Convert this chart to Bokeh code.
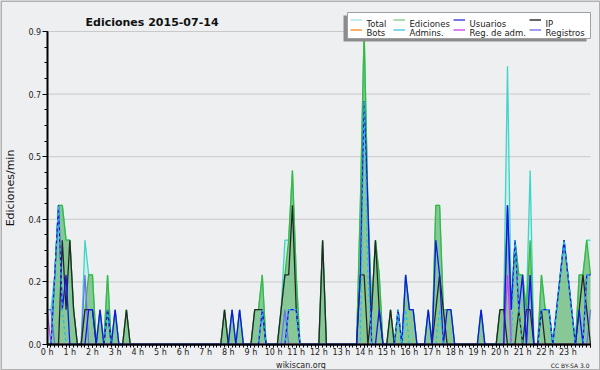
from bokeh.plotting import figure
from bokeh.models import LinearAxis, FixedTicker, Range1d
from bokeh.core.properties import value
from bokeh.embed import file_html
from bokeh.resources import INLINE

# ---------------- data (edits per minute, 10-minute bins, 2015-07-14) ----------------
MINUTES = list(range(0, 1441, 10))
HOURS = [m / 60 for m in MINUTES]

TOTAL = [
    0.1, 0.1, 0.2, 0.4, 0.4, 0.3, 0.3, 0.1, 0, 0, 0.3, 0.2,
    0.2, 0, 0.1, 0, 0.2, 0, 0.1, 0, 0, 0.1, 0, 0,
    0, 0, 0, 0, 0, 0, 0, 0, 0, 0, 0, 0,
    0, 0, 0, 0, 0, 0, 0, 0, 0, 0, 0, 0.1,
    0, 0.1, 0, 0.1, 0, 0, 0, 0.1, 0.1, 0.2, 0, 0,
    0, 0, 0.1, 0.3, 0.3, 0.5, 0.2, 0, 0, 0, 0, 0,
    0, 0.3, 0, 0, 0, 0, 0, 0, 0, 0, 0, 0.4,
    0.9, 0.4, 0.1, 0.3, 0.2, 0, 0, 0.1, 0, 0.1, 0, 0.2,
    0.1, 0.1, 0, 0, 0, 0.1, 0, 0.4, 0.4, 0.1, 0.1, 0.1,
    0, 0, 0, 0, 0, 0, 0, 0.1, 0, 0, 0, 0,
    0.1, 0.1, 0.8, 0.1, 0.3, 0.2, 0.2, 0.1, 0.5, 0, 0, 0.2,
    0.1, 0.1, 0, 0.1, 0.2, 0.3, 0.2, 0.1, 0, 0.2, 0.2, 0.3,
    0.3,
]
EDICIONES = [
    0, 0, 0.2, 0.4, 0.4, 0.3, 0.3, 0.1, 0, 0, 0.1, 0.2,
    0.2, 0, 0.1, 0, 0.2, 0, 0.1, 0, 0, 0.1, 0, 0,
    0, 0, 0, 0, 0, 0, 0, 0, 0, 0, 0, 0,
    0, 0, 0, 0, 0, 0, 0, 0, 0, 0, 0, 0.1,
    0, 0.1, 0, 0.1, 0, 0, 0, 0.1, 0.1, 0.2, 0, 0,
    0, 0, 0.1, 0.2, 0.3, 0.5, 0.2, 0, 0, 0, 0, 0,
    0, 0.3, 0, 0, 0, 0, 0, 0, 0, 0, 0, 0.4,
    0.9, 0.4, 0.1, 0.3, 0.2, 0, 0, 0.1, 0, 0.1, 0, 0.2,
    0.1, 0.1, 0, 0, 0, 0.1, 0, 0.4, 0.4, 0.1, 0.1, 0.1,
    0, 0, 0, 0, 0, 0, 0, 0.1, 0, 0, 0, 0,
    0.1, 0.1, 0.4, 0.1, 0.3, 0.2, 0.2, 0.1, 0.3, 0, 0, 0.2,
    0.1, 0.1, 0, 0.1, 0.2, 0.3, 0.2, 0.1, 0, 0.2, 0.2, 0.3,
    0.2,
]
USUARIOS = [
    0, 0, 0.2, 0.4, 0.1, 0.2, 0, 0, 0, 0, 0, 0.1,
    0.1, 0, 0.1, 0, 0.1, 0, 0.1, 0, 0, 0, 0, 0,
    0, 0, 0, 0, 0, 0, 0, 0, 0, 0, 0, 0,
    0, 0, 0, 0, 0, 0, 0, 0, 0, 0, 0, 0,
    0, 0.1, 0, 0.1, 0, 0, 0, 0, 0, 0.1, 0, 0,
    0, 0, 0, 0, 0.1, 0.1, 0.1, 0, 0, 0, 0, 0,
    0, 0, 0, 0, 0, 0, 0, 0, 0, 0, 0, 0.2,
    0.7, 0.4, 0, 0, 0.1, 0, 0, 0, 0, 0.1, 0, 0.2,
    0.1, 0.1, 0, 0, 0, 0.1, 0, 0.3, 0.2, 0, 0.1, 0.1,
    0, 0, 0, 0, 0, 0, 0, 0.1, 0, 0, 0, 0,
    0, 0, 0.4, 0.1, 0.3, 0.1, 0.2, 0, 0.2, 0, 0, 0.1,
    0.1, 0.1, 0, 0.1, 0.2, 0.3, 0.2, 0.1, 0, 0.1, 0, 0.2,
    0.2,
]
IP = [
    0, 0, 0, 0, 0.3, 0.1, 0.3, 0.1, 0, 0, 0.1, 0.1,
    0.1, 0, 0, 0, 0.1, 0, 0, 0, 0, 0.1, 0, 0,
    0, 0, 0, 0, 0, 0, 0, 0, 0, 0, 0, 0,
    0, 0, 0, 0, 0, 0, 0, 0, 0, 0, 0, 0.1,
    0, 0, 0, 0, 0, 0, 0, 0.1, 0.1, 0.1, 0, 0,
    0, 0, 0.1, 0.2, 0.2, 0.4, 0.1, 0, 0, 0, 0, 0,
    0, 0.3, 0, 0, 0, 0, 0, 0, 0, 0, 0, 0.2,
    0.2, 0, 0.1, 0.3, 0.1, 0, 0, 0.1, 0, 0, 0, 0,
    0, 0, 0, 0, 0, 0, 0, 0.1, 0.2, 0.1, 0, 0,
    0, 0, 0, 0, 0, 0, 0, 0, 0, 0, 0, 0,
    0.1, 0.1, 0, 0, 0, 0.1, 0, 0.1, 0.1, 0, 0, 0.1,
    0, 0, 0, 0, 0, 0, 0, 0, 0, 0.1, 0.2, 0.1,
    0,
]
BOTS = [
    0, 0, 0, 0, 0, 0, 0, 0, 0, 0, 0, 0,
    0, 0, 0, 0, 0, 0, 0, 0, 0, 0, 0, 0,
    0, 0, 0, 0, 0, 0, 0, 0, 0, 0, 0, 0,
    0, 0, 0, 0, 0, 0, 0, 0, 0, 0, 0, 0,
    0, 0, 0, 0, 0, 0, 0, 0, 0, 0, 0, 0,
    0, 0, 0, 0, 0, 0, 0, 0, 0, 0, 0, 0,
    0, 0, 0, 0, 0, 0, 0, 0, 0, 0, 0, 0,
    0, 0, 0, 0, 0, 0, 0, 0, 0, 0, 0, 0,
    0, 0, 0, 0, 0, 0, 0, 0, 0, 0, 0, 0,
    0, 0, 0, 0, 0, 0, 0, 0, 0, 0, 0, 0,
    0, 0, 0, 0, 0, 0, 0, 0, 0, 0, 0, 0,
    0, 0, 0, 0, 0, 0, 0, 0, 0, 0, 0, 0,
    0,
]
ADMINS = [
    0, 0, 0.2, 0.4, 0.1, 0, 0, 0, 0, 0, 0, 0,
    0, 0, 0, 0, 0.1, 0, 0, 0, 0, 0, 0, 0,
    0, 0, 0, 0, 0, 0, 0, 0, 0, 0, 0, 0,
    0, 0, 0, 0, 0, 0, 0, 0, 0, 0, 0, 0,
    0, 0, 0, 0, 0, 0, 0, 0, 0, 0.1, 0, 0,
    0, 0, 0, 0, 0.1, 0.1, 0.1, 0, 0, 0, 0, 0,
    0, 0, 0, 0, 0, 0, 0, 0, 0, 0, 0, 0,
    0.7, 0.2, 0, 0, 0, 0, 0, 0, 0, 0.1, 0, 0.1,
    0, 0, 0, 0, 0, 0, 0, 0, 0.1, 0, 0, 0,
    0, 0, 0, 0, 0, 0, 0, 0, 0, 0, 0, 0,
    0, 0, 0, 0, 0.3, 0.1, 0, 0, 0, 0, 0, 0.1,
    0.1, 0.1, 0, 0.1, 0.2, 0.3, 0.2, 0.1, 0, 0, 0, 0.2,
    0.2,
]
REG_ADM = [
    0.1, 0, 0, 0, 0, 0, 0, 0, 0, 0, 0, 0,
    0, 0, 0, 0, 0, 0, 0, 0, 0, 0, 0, 0,
    0, 0, 0, 0, 0, 0, 0, 0, 0, 0, 0, 0,
    0, 0, 0, 0, 0, 0, 0, 0, 0, 0, 0, 0,
    0, 0, 0, 0, 0, 0, 0, 0, 0, 0, 0, 0,
    0, 0, 0, 0, 0, 0, 0, 0, 0, 0, 0, 0,
    0, 0, 0, 0, 0, 0, 0, 0, 0, 0, 0, 0,
    0, 0, 0, 0, 0, 0, 0, 0, 0, 0, 0, 0,
    0, 0, 0, 0, 0, 0, 0, 0, 0, 0, 0, 0,
    0, 0, 0, 0, 0, 0, 0, 0, 0, 0, 0, 0,
    0, 0, 0.2, 0, 0, 0, 0, 0, 0, 0, 0, 0,
    0, 0, 0, 0, 0, 0, 0, 0, 0, 0, 0, 0,
    0,
]
REGISTROS = [
    0.1, 0.1, 0, 0, 0, 0, 0, 0, 0, 0, 0.2, 0,
    0, 0, 0, 0, 0, 0, 0, 0, 0, 0, 0, 0,
    0, 0, 0, 0, 0, 0, 0, 0, 0, 0, 0, 0,
    0, 0, 0, 0, 0, 0, 0, 0, 0, 0, 0, 0,
    0, 0, 0, 0, 0, 0, 0, 0, 0, 0, 0, 0,
    0, 0, 0, 0.1, 0, 0, 0, 0, 0, 0, 0, 0,
    0, 0, 0, 0, 0, 0, 0, 0, 0, 0, 0, 0,
    0, 0, 0, 0, 0, 0, 0, 0, 0, 0, 0, 0,
    0, 0, 0, 0, 0, 0, 0, 0, 0, 0, 0, 0,
    0, 0, 0, 0, 0, 0, 0, 0, 0, 0, 0, 0,
    0, 0, 0.4, 0, 0, 0, 0, 0, 0.2, 0, 0, 0,
    0, 0, 0, 0, 0, 0, 0, 0, 0, 0, 0, 0,
    0.1,
]

Y_TICKS = [0, 0.18, 0.36, 0.54, 0.72, 0.9]
Y_LABELS = ["0.0", "0.2", "0.4", "0.5", "0.7", "0.9"]
Y_MINOR = [0, 0.045, 0.09, 0.135, 0.18, 0.225, 0.27, 0.315, 0.36, 0.405, 0.45,
           0.495, 0.54, 0.585, 0.63, 0.675, 0.72, 0.765, 0.81, 0.855, 0.9]
X_TICKS = list(range(25))
X_LABELS = [f"{h} h" for h in range(24)] + [""]

TITLE = "Ediciones  2015-07-14"
Y_TITLE = "Ediciones/min"
LEGEND_NAMES = [["Total", "Ediciones", "Usuarios", "IP"],
                ["Bots", "Admins.", "Reg. de adm.", "Registros"]]

# ---------------- layout (pixel geometry of the canvas) ----------------
W, H = 600, 370
PX_H0, PX_H24 = 46.7, 590.0
PY_0, PY_TOP, Y_MAX = 344.0, 31.0, 0.9
PX_PER_H = (PX_H24 - PX_H0) / 24
PX_PER_Y = (PY_0 - PY_TOP) / Y_MAX


def dx(px):
    return (px - PX_H0) / PX_PER_H


def dy(py):
    return (PY_0 - py) / PX_PER_Y


BG = "#eeeff1"
FONT = value("DejaVu Sans")
C_TOTAL, C_TOTAL_FILL = "#3dd5c6", "#40e0d0"
C_EDIT, C_EDIT_FILL = "#3cb83c", "#2e9e2e"
C_USERS = "#1414ee"
C_IP = "#262626"
C_BOTS = "#ff9933"
C_ADMINS = "#2bbbe8"
C_REGADM = "#cc44ee"
C_LOGS = "#7070f0"

p = figure(width=W, height=H, x_range=Range1d(dx(0), dx(W)), y_range=Range1d(dy(H), dy(0)),
           x_axis_type=None, y_axis_type=None, toolbar_location=None,
           output_backend="svg", title=None, min_border=0)
p.min_border_left = p.min_border_right = p.min_border_top = p.min_border_bottom = 0
p.outline_line_color = None
p.background_fill_color = BG
p.border_fill_color = BG

# grid lines
for yt in Y_TICKS[1:]:
    p.segment(x0=[0], y0=[yt], x1=[24], y1=[yt], line_color="#c9c9c9", line_width=1)

# areas
p.varea(x=HOURS, y1=0, y2=TOTAL, fill_color=C_TOTAL_FILL, fill_alpha=0.17)
p.varea(x=HOURS, y1=0, y2=EDICIONES, fill_color=C_EDIT_FILL, fill_alpha=0.45)

# lines
LW = 1.3
p.line(HOURS, BOTS, line_color=C_BOTS, line_width=LW)
p.line(HOURS, TOTAL, line_color=C_TOTAL, line_width=LW)
p.line(HOURS, EDICIONES, line_color=C_EDIT, line_width=LW)
p.line(HOURS, REGISTROS, line_color=C_LOGS, line_width=LW)
p.line(HOURS, REG_ADM, line_color=C_REGADM, line_width=LW)
p.line(HOURS, IP, line_color=C_IP, line_width=LW)
p.line(HOURS, USUARIOS, line_color=C_USERS, line_width=LW)
p.line(HOURS, ADMINS, line_color=C_ADMINS, line_width=LW, line_dash="3 3")

# axes
yaxis = LinearAxis(fixed_location=0, bounds=(0, 0.9),
                   ticker=FixedTicker(ticks=Y_TICKS, minor_ticks=Y_MINOR),
                   major_label_overrides=dict(zip(Y_TICKS, Y_LABELS)))
xaxis = LinearAxis(fixed_location=0, bounds=(0, 24),
                   ticker=FixedTicker(ticks=X_TICKS, minor_ticks=HOURS),
                   major_label_overrides=dict(zip(X_TICKS, X_LABELS)))
for ax in (yaxis, xaxis):
    ax.axis_line_color = "black"
    ax.axis_line_width = 2
    ax.major_tick_line_color = "black"
    ax.minor_tick_line_color = "black"
    ax.major_tick_in = 0
    ax.minor_tick_in = 0
    ax.major_label_text_font = "DejaVu Sans"
    ax.major_label_text_font_size = "8px"
    ax.major_label_text_color = "#222222"
yaxis.major_tick_out = 5
yaxis.minor_tick_out = 3
yaxis.major_label_standoff = 1
xaxis.major_tick_out = 3
xaxis.minor_tick_out = 3
xaxis.major_label_standoff = 0
p.add_layout(yaxis, "left")
p.add_layout(xaxis, "below")

# texts
p.text(x=[dx(85)], y=[dy(21.7)], text=[TITLE], text_font=FONT, text_font_size="11px",
       text_font_style="bold", text_color="#111111", text_align="left", text_baseline="alphabetic")
p.text(x=[dx(10)], y=[dy(187.5)], text=[Y_TITLE], text_font=FONT, text_font_size="11px",
       text_color="#111111", text_align="center", text_baseline="middle", angle=1.5707963)
p.text(x=[dx(300.5)], y=[dy(364.5)], text=["wikiscan.org"], text_font=FONT, text_font_size="8px",
       text_color="#222222", text_align="center", text_baseline="alphabetic")
p.text(x=[dx(589)], y=[dy(365)], text=["CC BY-SA 3.0"], text_font=FONT, text_font_size="6px",
       text_color="#222222", text_align="right", text_baseline="alphabetic")

# legend box with shadow
p.quad(left=[dx(343)], right=[dx(586)], top=[dy(15)], bottom=[dy(41)],
       fill_color="#8c8c8c", line_color=None)
p.quad(left=[dx(347)], right=[dx(590)], top=[dy(12)], bottom=[dy(38)],
       fill_color="white", line_color="#a0a0a0", line_width=1)
LEG_COLORS = [["#aee6e6", "#8fd08f", "#4a4ae0", "#333333"],
              [C_BOTS, "#55cdeb", "#cf5ee8", "#7e7ef0"]]
COL_LINE_X = [350, 393, 453, 529]
ROW_LINE_Y = [19.5, 29.5]
ROW_TEXT_Y = [23.2, 32.8]
for r in range(2):
    for c in range(4):
        x0 = COL_LINE_X[c]
        p.segment(x0=[dx(x0)], y0=[dy(ROW_LINE_Y[r])], x1=[dx(x0 + 11.5)], y1=[dy(ROW_LINE_Y[r])],
                  line_color=LEG_COLORS[r][c], line_width=1.3)
        p.text(x=[dx(x0 + 16)], y=[dy(ROW_TEXT_Y[r])], text=[LEGEND_NAMES[r][c]], text_font=FONT,
               text_font_size="8.5px", text_color="#222222", text_align="left",
               text_baseline="alphabetic")

# canvas border
p.quad(left=[dx(0)], right=[dx(W)], top=[dy(0)], bottom=[dy(H)], fill_color=None,
       line_color="#b0b0b0", line_width=3)

open("out.html", "w").write(file_html(p, INLINE))
